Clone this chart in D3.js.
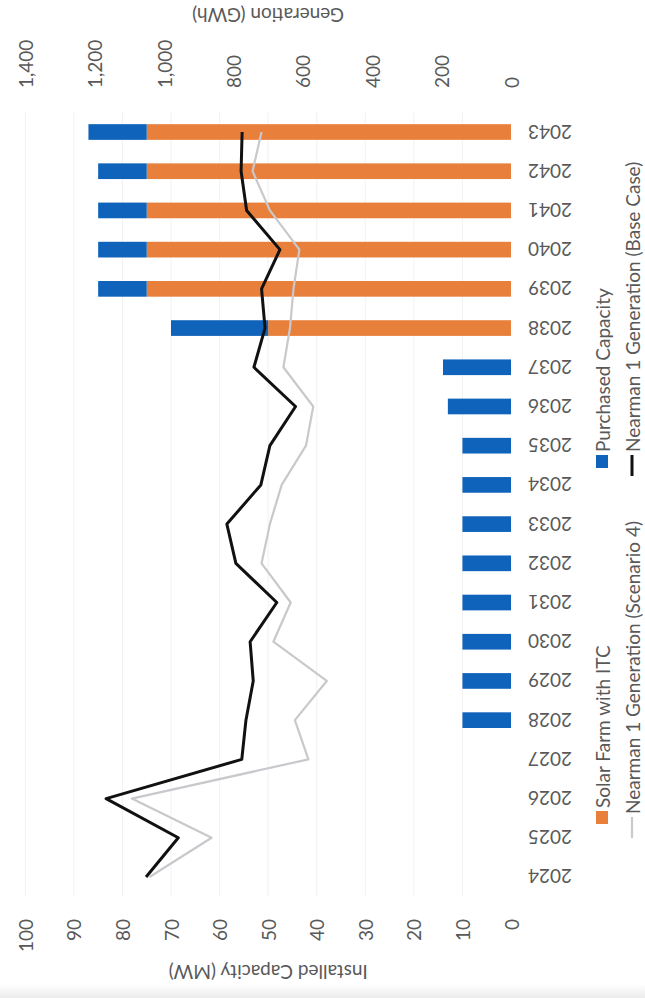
<!DOCTYPE html>
<html>
<head>
<meta charset="utf-8">
<script src="https://cdn.jsdelivr.net/npm/d3@7/dist/d3.min.js"></script>
<style>
  html, body { margin: 0; padding: 0; background: #ffffff; }
  svg { display: block; }
  text { font-family: Lato, "Open Sans", sans-serif; fill: #595959; }
</style>
</head>
<body>
<script>
// Installed capacity (MW) and Nearman 1 generation (GWh), 2024–2043
const years = ["2024","2025","2026","2027","2028","2029","2030","2031","2032","2033",
               "2034","2035","2036","2037","2038","2039","2040","2041","2042","2043"];
const solarITC  = [0,0,0,0,0,0,0,0,0,0,0,0,0,0,50,75,75,75,75,75];
const purchased = [0,0,0,0,10,10,10,10,10,10,10,10,13,14,20,10,10,10,10,12];
const genScenario4 = [1042,863,1093,584,623,531,685,635,719,695,661,591,570,656,637,627,610,695,745,719];
const genBase      = [1052,959,1167,776,764,743,752,675,793,819,721,695,621,741,709,719,666,762,778,775];
const mwTicks  = [0,10,20,30,40,50,60,70,80,90,100];
const gwhTicks = [0,200,400,600,800,1000,1200,1400];

const PAGE_W = 645, PAGE_H = 998;
// chart is laid out landscape (W x H) and turned a quarter-turn onto the page
const W = PAGE_H, H = PAGE_W;

const svg = d3.select("body").append("svg")
  .attr("width", PAGE_W).attr("height", PAGE_H);

// faint shading along the bottom edge of the sheet
const defs = svg.append("defs");
const grad = defs.append("linearGradient").attr("id", "edge")
  .attr("x1", 0).attr("x2", 0).attr("y1", 0).attr("y2", 1);
grad.append("stop").attr("offset", 0).attr("stop-color", "#ffffff");
grad.append("stop").attr("offset", 1).attr("stop-color", "#ececec");
svg.append("rect").attr("x", 0).attr("y", PAGE_H - 14)
  .attr("width", PAGE_W).attr("height", 14).attr("fill", "url(#edge)");

const g = svg.append("g")
  .attr("transform", `translate(0,${PAGE_H}) rotate(-90)`);

const plot = { left: 101.4, right: 885.6, top: 25.3, bottom: 511 };

const x = d3.scaleBand().domain(years)
  .range([plot.left, plot.right]).paddingInner(0.6).paddingOuter(0.3);
const yMW  = d3.scaleLinear().domain([0, 100]).range([plot.bottom, plot.top]);
const yGWh = d3.scaleLinear().domain([0, 1400]).range([plot.bottom, plot.top]);

const colors = { solar: "#E8803C", purchased: "#0F63BA", scen4: "#C9C8CD", base: "#111111" };

// gridlines
g.append("g").selectAll("line").data(mwTicks.filter(d => d > 0)).join("line")
  .attr("x1", plot.left).attr("x2", plot.right)
  .attr("y1", d => yMW(d)).attr("y2", d => yMW(d))
  .attr("stroke", "#f2f2f2").attr("stroke-width", 1);

// stacked bars
const rows = years.map((yr, i) => ({ year: yr, solar: solarITC[i], purchased: purchased[i] }));
const stack = d3.stack().keys(["solar", "purchased"])(rows);
g.append("g").selectAll("g").data(stack).join("g")
  .attr("fill", d => colors[d.key])
  .selectAll("rect").data(d => d.filter(p => p[1] > p[0])).join("rect")
  .attr("x", d => x(d.data.year))
  .attr("width", x.bandwidth())
  .attr("y", d => yMW(d[1]))
  .attr("height", d => yMW(d[0]) - yMW(d[1]));

// generation lines
const cx = yr => x(yr) + x.bandwidth() / 2;
const line = d3.line().x(d => cx(d[0])).y(d => yGWh(d[1]));
g.append("path").datum(years.map((yr, i) => [yr, genScenario4[i]]))
  .attr("d", line).attr("fill", "none")
  .attr("stroke", colors.scen4).attr("stroke-width", 2.2).attr("stroke-linejoin", "round");
g.append("path").datum(years.map((yr, i) => [yr, genBase[i]]))
  .attr("d", line).attr("fill", "none")
  .attr("stroke", colors.base).attr("stroke-width", 3).attr("stroke-linejoin", "round");

// left axis: installed capacity
const fs = 19;
g.append("g").selectAll("text").data(mwTicks).join("text")
  .attr("x", 79).attr("y", d => yMW(d))
  .attr("text-anchor", "end").attr("dominant-baseline", "central")
  .attr("font-size", fs).text(d => d);

// right axis: generation
const fmt = d3.format(",");
g.append("g").selectAll("text").data(gwhTicks).join("text")
  .attr("x", 910).attr("y", d => yGWh(d))
  .attr("text-anchor", "start").attr("dominant-baseline", "central")
  .attr("font-size", fs).text(d => fmt(d));

// category labels
g.append("g").selectAll("text").data(years).join("text")
  .attr("transform", d => `translate(${cx(d)},528) rotate(-90)`)
  .attr("text-anchor", "end").attr("dominant-baseline", "central")
  .attr("font-size", fs).text(d => d);

// axis titles
g.append("text")
  .attr("transform", `translate(26,${(plot.top + plot.bottom) / 2}) rotate(-90)`)
  .attr("text-anchor", "middle").attr("dominant-baseline", "central")
  .attr("font-size", fs).text("Installed Capacity (MW)");
g.append("text")
  .attr("transform", `translate(983,${(plot.top + plot.bottom) / 2}) rotate(-90)`)
  .attr("text-anchor", "middle").attr("dominant-baseline", "central")
  .attr("font-size", fs).text("Generation (GWh)");

// legend
const legendItems = [
  { label: "Solar Farm with ITC", type: "rect", color: colors.solar, x: 174, y: 602 },
  { label: "Purchased Capacity", type: "rect", color: colors.purchased, x: 530, y: 602 },
  { label: "Nearman 1 Generation (Scenario 4)", type: "line", color: colors.scen4, x: 160, y: 632 },
  { label: "Nearman 1 Generation (Base Case)", type: "line", color: colors.base, x: 522, y: 632 }
];
const lg = g.append("g").selectAll("g").data(legendItems).join("g")
  .attr("transform", d => `translate(${d.x},${d.y})`);
lg.filter(d => d.type === "rect").append("rect")
  .attr("x", 0).attr("y", -6).attr("width", 13).attr("height", 12)
  .attr("fill", d => d.color);
lg.filter(d => d.type === "line").append("line")
  .attr("x1", 0).attr("x2", 21).attr("y1", 0).attr("y2", 0)
  .attr("stroke", d => d.color).attr("stroke-width", d => d.color === colors.base ? 3 : 2.2);
lg.append("text")
  .attr("x", d => d.type === "rect" ? 16 : 24).attr("y", 0)
  .attr("dominant-baseline", "central").attr("font-size", 19)
  .text(d => d.label);
</script>
</body>
</html>
